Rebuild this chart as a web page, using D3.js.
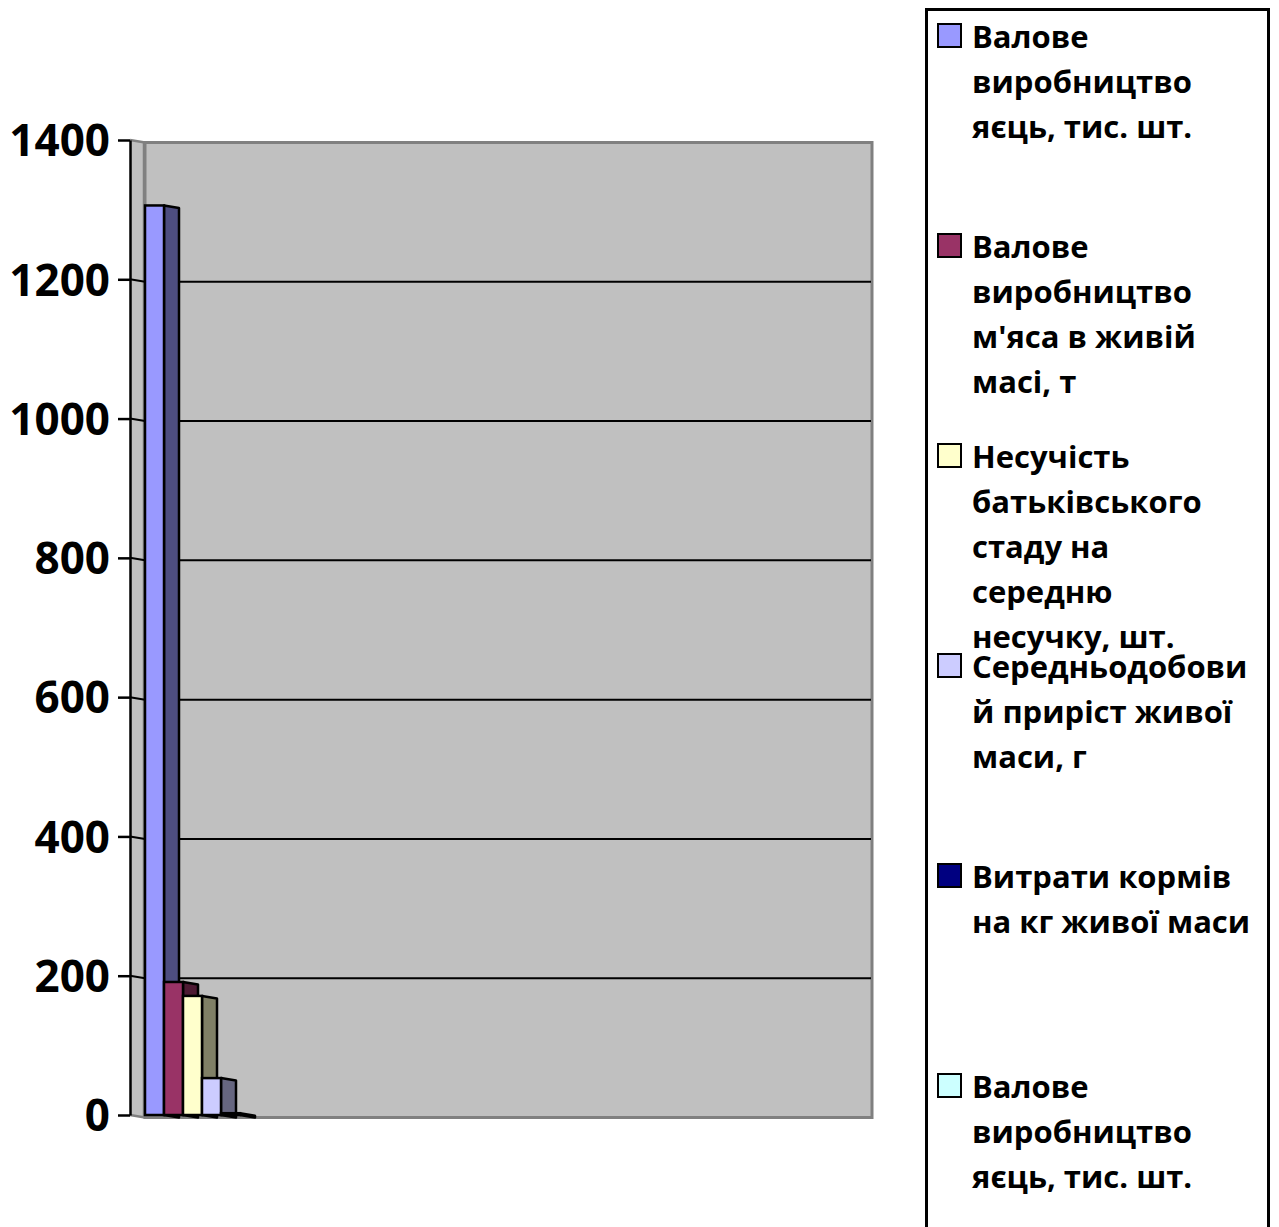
<!DOCTYPE html>
<html>
<head>
<meta charset="utf-8">
<script src="https://cdn.jsdelivr.net/npm/d3@7"></script>
<style>
  html, body { margin: 0; padding: 0; background: #fff; }
  svg { display: block; }
  text { font-family: "Open Sans", "Noto Sans", sans-serif; font-weight: 700; fill: #000; }
</style>
</head>
<body>
<svg id="chart" width="1279" height="1227"></svg>
<script>
// Показники птахівництва (один період, шість рядів)
const seriesNames = [
  "Валове виробництво яєць, тис. шт.",
  "Валове виробництво м'яса в живій масі, т",
  "Несучість батьківського стаду на середню несучку, шт.",
  "Середньодобовий приріст живої маси, г",
  "Витрати кормів на кг живої маси",
  "Валове виробництво яєць, тис. шт."
];
const seriesValues = [1306, 191, 171, 53, 2.6, 0];
const legendLines = [
  ["Валове", "виробництво", "яєць, тис. шт."],
  ["Валове", "виробництво", "м'яса в живій", "масі, т"],
  ["Несучість", "батьківського", "стаду на", "середню", "несучку, шт."],
  ["Середньодобови", "й приріст живої", "маси, г"],
  ["Витрати кормів", "на кг живої маси"],
  ["Валове", "виробництво", "яєць, тис. шт."]
];
const yTickValues = [0, 200, 400, 600, 800, 1000, 1200, 1400];

// Кольори граней: передня / бічна
const frontColors = ["#9999FF", "#993366", "#FFFFCC", "#CCCCFF", "#000080", "#CCFFFF"];
const sideColors  = ["#4D4D80", "#4D1A33", "#808066", "#666680", "#000040", "#668080"];

const svg = d3.select("#chart");

// Геометрія псевдо-3D
const axisX = 130, wallX = 145, wallRight = 872;
const depthDx = 15, depthDy = 2.5;
const y = d3.scaleLinear().domain([0, 1400]).range([1115, 140]);
const x = d3.scaleBand()
  .domain(d3.range(seriesNames.length))
  .range([wallX, wallX + 19 * seriesNames.length])
  .padding(0);

// Задня стінка
svg.append("rect")
  .attr("x", wallX).attr("y", y(1400) + depthDy)
  .attr("width", wallRight - wallX).attr("height", y(0) - y(1400))
  .attr("fill", "#C0C0C0").attr("stroke", "#808080").attr("stroke-width", 3);

// Бічна стінка
svg.append("polygon")
  .attr("points", [
    [axisX, y(1400)], [wallX, y(1400) + depthDy],
    [wallX, y(0) + depthDy], [axisX, y(0)]
  ].map(p => p.join(",")).join(" "))
  .attr("fill", "#C0C0C0");
svg.append("line")
  .attr("x1", wallX - 1).attr("x2", wallX - 1)
  .attr("y1", y(1400) + depthDy).attr("y2", y(0) + depthDy)
  .attr("stroke", "#808080").attr("stroke-width", 2.5);
svg.append("line")
  .attr("x1", axisX).attr("y1", y(1400))
  .attr("x2", wallX).attr("y2", y(1400) + depthDy)
  .attr("stroke", "#808080").attr("stroke-width", 2.5);
svg.append("line")
  .attr("x1", axisX).attr("y1", y(0))
  .attr("x2", wallX).attr("y2", y(0) + depthDy)
  .attr("stroke", "#808080").attr("stroke-width", 2.5);

// Лінії сітки на стінках
const grid = svg.append("g");
yTickValues.filter(v => v > 0 && v < 1400).forEach(v => {
  grid.append("line")
    .attr("x1", axisX).attr("y1", y(v))
    .attr("x2", wallX).attr("y2", y(v) + depthDy)
    .attr("stroke", "#000").attr("stroke-width", 2);
  grid.append("line")
    .attr("x1", wallX).attr("y1", y(v) + depthDy)
    .attr("x2", wallRight - 1).attr("y2", y(v) + depthDy)
    .attr("stroke", "#000").attr("stroke-width", 2);
});

// Стовпці (нульові значення не малюються)
const bars = svg.append("g");
seriesValues.forEach((v, i) => {
  if (v <= 0) return;
  const x0 = x(i), x1 = x(i) + x.bandwidth();
  const yv = y(v), y0 = y(0);
  const g = bars.append("g");
  g.append("polygon")
    .attr("points", [[x1, yv], [x1 + depthDx, yv + depthDy], [x1 + depthDx, y0 + depthDy], [x1, y0]]
      .map(p => p.join(",")).join(" "))
    .attr("fill", sideColors[i]).attr("stroke", "#000").attr("stroke-width", 2.5)
    .attr("stroke-linejoin", "round");
  g.append("rect")
    .attr("x", x0).attr("y", yv)
    .attr("width", x1 - x0).attr("height", Math.max(0, y0 - yv))
    .attr("fill", frontColors[i]).attr("stroke", "#000").attr("stroke-width", 2.5);
});

// Вісь значень
const axis = d3.axisLeft(y).tickValues(yTickValues).tickFormat(d3.format("d"))
  .tickSize(12).tickPadding(8).tickSizeOuter(0);
const ag = svg.append("g").attr("transform", `translate(${axisX},0)`).call(axis);
ag.select(".domain").attr("stroke", "#000").attr("stroke-width", 2.5);
ag.selectAll(".tick line").attr("stroke", "#000").attr("stroke-width", 2.5);
ag.selectAll(".tick text")
  .attr("font-size", 44).attr("font-family", "'Open Sans', sans-serif").attr("font-weight", 700)
  .attr("fill", "#000").attr("dy", "0.36em");

// Легенда
const legend = svg.append("g");
legend.append("rect")
  .attr("x", 926.5).attr("y", 9.5).attr("width", 342).attr("height", 1240)
  .attr("fill", "#fff").attr("stroke", "#000").attr("stroke-width", 3);
legendLines.forEach((lines, i) => {
  const top = 24 + i * 210;
  legend.append("rect")
    .attr("x", 938).attr("y", top).attr("width", 23).attr("height", 23)
    .attr("fill", frontColors[i]).attr("stroke", "#000").attr("stroke-width", 2);
  const t = legend.append("text")
    .attr("x", 972).attr("y", top + 24)
    .attr("font-size", 31);
  lines.forEach((ln, j) => {
    t.append("tspan").attr("x", 972).attr("y", top + 24 + j * 45).text(ln);
  });
});
</script>
</body>
</html>
